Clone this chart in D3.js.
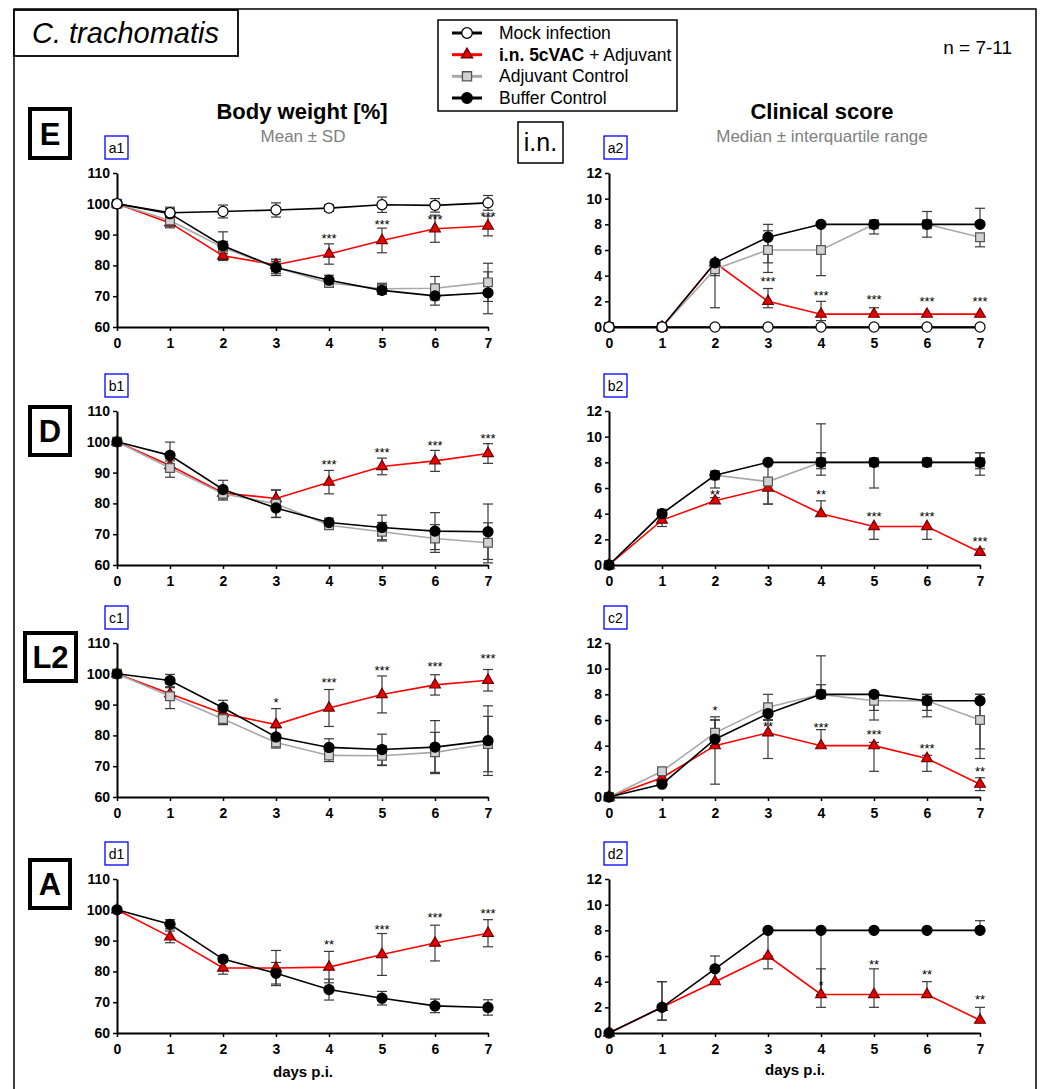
<!DOCTYPE html>
<html lang="en">
<head>
<meta charset="utf-8">
<title>C. trachomatis - body weight and clinical score</title>
<script src="https://cdn.jsdelivr.net/npm/d3@7"></script>
<style>
  body { margin: 0; background: #fff; font-family: 'Liberation Sans', Arial, sans-serif; }
  .axis path, .axis line { stroke: #000; }
  .axis path { stroke-width: 2; }
  .axis line { stroke-width: 1.5; }
  .axis text { font-family: 'Liberation Sans', Arial, sans-serif; font-weight: bold; font-size: 14px; fill: #000; }
</style>
</head>
<body>
<div id="chart"></div>
<script>

/* Data */
/* ==== */

var days = [0, 1, 2, 3, 4, 5, 6, 7];
var weightTicks = [60, 70, 80, 90, 100, 110];
var scoreTicks = [0, 2, 4, 6, 8, 10, 12];

var legendLabels = ['Mock infection', 'i.n. 5cVAC', 'Adjuvant Control', 'Buffer Control'];
var strainLabels = ['E', 'D', 'L2', 'A'];
var panelLabelsWeight = ['a1', 'b1', 'c1', 'd1'];
var panelLabelsScore = ['a2', 'b2', 'c2', 'd2'];

// body weight [%]: [mean, sd]
var eWeightMock = [[100, 0], [97.1, 1.8], [97.5, 2.1], [98.0, 2.3], [98.6, 1.0], [99.7, 2.5], [99.5, 2.2], [100.3, 2.4]];
var eWeightVac  = [[100, 0], [93.8, 1.6], [83.1, 1.5], [80.2, 1.8], [83.7, 3.3], [88.1, 4.0], [91.9, 4.4], [92.8, 3.2]];
var eWeightAdj  = [[100, 0], [94.6, 1.8], [85.8, 2.0], [79.3, 2.0], [74.3, 1.0], [72.4, 1.8], [72.6, 3.8], [74.5, 6.2]];
var eWeightBuf  = [[100, 0], [96.8, 1.6], [86.4, 4.5], [79.3, 2.6], [75.2, 1.6], [71.9, 1.3], [70.1, 3.0], [71.1, 6.8]];
var eWeightStars = ['', '', '', '', '***', '***', '***', '***'];
var eWeightStarAt = [0, 0, 0, 0, 89.4, 94.1, 95.7, 96.6];

var dWeightVac = [[100, 0], [92.3, 1.5], [83.4, 1.5], [81.6, 2.7], [86.9, 3.8], [92.0, 2.7], [93.8, 3.4], [96.2, 3.2]];
var dWeightAdj = [[100, 0], [91.5, 3.0], [83.1, 2.0], [79.9, 4.5], [72.9, 1.0], [70.8, 3.0], [68.6, 4.5], [67.2, 6.5]];
var dWeightBuf = [[100, 0], [95.6, 4.3], [84.5, 3.0], [78.5, 3.0], [73.8, 1.4], [72.2, 4.0], [71.0, 6.0], [70.8, 9.0]];
var dWeightStars = ['', '', '', '', '***', '***', '***', '***'];
var dWeightStarAt = [0, 0, 0, 0, 93.4, 97.2, 99.5, 101.9];

var lWeightVac = [[100, 0], [93.5, 2.0], [87.1, 1.5], [83.5, 5.2], [88.9, 6.0], [93.3, 6.0], [96.4, 3.3], [97.9, 3.5]];
var lWeightAdj = [[100, 0], [92.7, 4.0], [85.3, 1.8], [77.7, 1.8], [73.5, 2.0], [73.4, 3.2], [74.5, 6.5], [77.2, 9.0]];
var lWeightBuf = [[100, 0], [97.8, 2.0], [89.0, 2.4], [79.5, 3.0], [76.1, 2.8], [75.4, 5.0], [76.2, 8.6], [78.3, 11.3]];
var lWeightStars = ['', '', '', '*', '***', '***', '***', '***'];
var lWeightStarAt = [0, 0, 0, 91.6, 97.9, 101.9, 103.3, 105.9];

var aWeightVac = [[100, 0], [91.2, 1.9], [81.1, 2.0], [81.1, 5.7], [81.4, 5.1], [85.5, 6.8], [89.2, 5.8], [92.4, 4.4]];
var aWeightBuf = [[100, 0], [95.3, 1.5], [84.0, 1.0], [79.4, 3.5], [74.1, 3.4], [71.3, 2.2], [68.8, 2.2], [68.3, 2.5]];
var aWeightStars = ['', '', '', '', '**', '***', '***', '***'];
var aWeightStarAt = [0, 0, 0, 0, 89.4, 94.5, 98.4, 99.7];

// clinical score: [median, q1, q3]
var eScoreMock = [[0, 0, 0], [0, 0, 0], [0, 0, 0], [0, 0, 0], [0, 0, 0], [0, 0, 0], [0, 0, 0], [0, 0, 0]];
var eScoreVac  = [[0, 0, 0], [0, 0, 0], [5, 5, 5], [2, 1.5, 3], [1, 0.5, 2], [1, 1, 1.5], [1, 1, 1], [1, 1, 1]];
var eScoreAdj  = [[0, 0, 0], [0, 0, 0], [4.5, 1.5, 5], [6, 4.25, 7.5], [6, 4, 8], [8, 7.25, 8.25], [8, 7, 9], [7, 6.25, 7]];
var eScoreBuf  = [[0, 0, 0], [0, 0, 0], [5, 4, 5], [7, 5, 8], [8, 8, 8], [8, 8, 8], [8, 8, 8], [8, 8, 9.25]];
var eScoreStars = ['', '', '', '***', '***', '***', '***', '***'];
var eScoreStarAt = [0, 0, 0, 3.74, 2.67, 2.3, 2.15, 2.2];

var dScoreVac = [[0, 0, 0], [3.5, 3, 3.5], [5, 5, 5.25], [6, 4.75, 6], [4, 4, 5], [3, 2, 3], [3, 2, 3], [1, 0.75, 1.25]];
var dScoreAdj = [[0, 0, 0], [4, 4, 4], [7, 6, 7], [6.5, 4.75, 8], [8, 7.5, 11], [8, 6, 8], [8, 8, 8], [8, 7, 8.75]];
var dScoreBuf = [[0, 0, 0], [4, 4, 4], [7, 7, 7], [8, 8, 8], [8, 7, 8.75], [8, 8, 8], [8, 8, 8], [8, 7.5, 8.75]];
var dScoreStars = ['', '', '**', '', '**', '***', '***', '***'];
var dScoreStarAt = [0, 0, 5.69, 0, 5.69, 4.0, 4.0, 2.05];

var lScoreVac = [[0, 0, 0], [1.5, 1.5, 1.5], [4, 1, 6], [5, 3, 6], [4, 4, 5.25], [4, 2, 4.25], [3, 2, 3.25], [1, 0.5, 1.5]];
var lScoreAdj = [[0, 0, 0], [2, 2, 2], [5, 4, 6.25], [7, 6, 8], [8, 8, 11], [7.5, 6, 8], [7.5, 6.25, 8], [6, 3, 8]];
var lScoreBuf = [[0, 0, 0], [1, 1, 1.25], [4.5, 4, 6], [6.5, 6, 7], [8, 8, 8.75], [8, 6.75, 8], [7.5, 6.75, 8], [7.5, 3.75, 8]];
var lScoreStars = ['', '', '*', '**', '***', '***', '***', '**'];
var lScoreStarAt = [0, 0, 6.96, 5.66, 5.6, 5.09, 4.0, 2.19];

var aScoreVac = [[0, 0, 0], [2, 1, 4], [4, 4, 4], [6, 5, 6], [3, 2, 5], [3, 2, 5], [3, 3, 4], [1, 1, 2]];
var aScoreBuf = [[0, 0, 0], [2, 1, 4], [5, 4, 6], [8, 6, 8], [8, 3, 8], [8, 8, 8], [8, 8, 8], [8, 8, 8.75]];
var aScoreStars = ['', '', '', '', '*', '**', '**', '**'];
var aScoreStarAt = [0, 0, 0, 0, 3.89, 5.52, 4.74, 2.8];


/* Layout */
/* ====== */

var width = 1043,
    height = 1089,
    plotH = 154,
    rowTop = [173, 411, 643, 879],
    letterBoxes = [[30, 109, 40, 49], [30, 407, 40, 48], [25, 633, 51, 48], [30, 860, 40, 48]];

var seriesStyle = {
  vac:  { line: '#ff0000', shape: d3.symbolTriangle, size: 50, fill: '#e80000', stroke: '#6a0000' },
  adj:  { line: '#a8a8a8', shape: d3.symbolSquare, size: 76, fill: '#d2d2d2', stroke: '#555' },
  buf:  { line: '#000', shape: d3.symbolCircle, size: 80, fill: '#000', stroke: '#000' },
  mock: { line: '#000', shape: d3.symbolCircle, size: 80, fill: '#fff', stroke: '#000' }
};
var drawOrder = ['vac', 'adj', 'buf', 'mock'];

var panels = [
  { row: 0, col: 0, kind: 'weight', series: { mock: eWeightMock, vac: eWeightVac, adj: eWeightAdj, buf: eWeightBuf }, stars: eWeightStars, starAt: eWeightStarAt },
  { row: 0, col: 1, kind: 'score', series: { mock: eScoreMock, vac: eScoreVac, adj: eScoreAdj, buf: eScoreBuf }, stars: eScoreStars, starAt: eScoreStarAt },
  { row: 1, col: 0, kind: 'weight', series: { vac: dWeightVac, adj: dWeightAdj, buf: dWeightBuf }, stars: dWeightStars, starAt: dWeightStarAt },
  { row: 1, col: 1, kind: 'score', series: { vac: dScoreVac, adj: dScoreAdj, buf: dScoreBuf }, stars: dScoreStars, starAt: dScoreStarAt },
  { row: 2, col: 0, kind: 'weight', series: { vac: lWeightVac, adj: lWeightAdj, buf: lWeightBuf }, stars: lWeightStars, starAt: lWeightStarAt },
  { row: 2, col: 1, kind: 'score', series: { vac: lScoreVac, adj: lScoreAdj, buf: lScoreBuf }, stars: lScoreStars, starAt: lScoreStarAt },
  { row: 3, col: 0, kind: 'weight', series: { vac: aWeightVac, buf: aWeightBuf }, stars: aWeightStars, starAt: aWeightStarAt },
  { row: 3, col: 1, kind: 'score', series: { vac: aScoreVac, buf: aScoreBuf }, stars: aScoreStars, starAt: aScoreStarAt }
];

var xScales = [
  d3.scaleLinear().domain([0, 7]).range([117, 488]),
  d3.scaleLinear().domain([0, 7]).range([609, 980])
];

var svg = d3.select('#chart').append('svg')
  .attr('width', width)
  .attr('height', height)
  .style('display', 'block');

var font = "'Liberation Sans', Arial, sans-serif";


/* Frame and headers */
/* ================= */

svg.append('rect')
  .attr('x', 14).attr('y', 9).attr('width', 1022).attr('height', 1110)
  .attr('fill', 'none').attr('stroke', '#000').attr('stroke-width', 1.5);

svg.append('rect')
  .attr('x', 14).attr('y', 10).attr('width', 224).attr('height', 46)
  .attr('fill', '#fff').attr('stroke', '#000').attr('stroke-width', 1.8);

svg.append('text')
  .attr('x', 32).attr('y', 43)
  .style('font', 'italic 29px ' + font)
  .text('C. trachomatis');

svg.append('text')
  .attr('x', 1012).attr('y', 54)
  .attr('text-anchor', 'end')
  .style('font', '19px ' + font)
  .text('n = 7-11');

// legend
var legend = svg.append('g');
legend.append('rect')
  .attr('x', 438).attr('y', 20).attr('width', 239).attr('height', 91)
  .attr('fill', '#fff').attr('stroke', '#000').attr('stroke-width', 1.5);

var legendKeys = ['mock', 'vac', 'adj', 'buf'];
var legendY = d3.scalePoint().domain(legendKeys).range([33, 98]);

legendKeys.forEach(function(k, i) {
  var st = seriesStyle[k], y = legendY(k);
  legend.append('line')
    .attr('x1', 452).attr('x2', 482).attr('y1', y).attr('y2', y)
    .attr('stroke', st.line).attr('stroke-width', 3);
  legend.append('path')
    .attr('d', d3.symbol(st.shape, st.size * 1.1)())
    .attr('transform', 'translate(467,' + y + ')')
    .attr('fill', st.fill).attr('stroke', st.stroke).attr('stroke-width', 1.3);
  var t = legend.append('text')
    .attr('x', 499).attr('y', y + 6)
    .style('font', '17.5px ' + font);
  if (k === 'vac') {
    t.append('tspan').style('font-weight', 'bold').text(legendLabels[i]);
    t.append('tspan').text(' + Adjuvant');
  } else {
    t.text(legendLabels[i]);
  }
});

svg.append('text')
  .attr('x', 302).attr('y', 119).attr('text-anchor', 'middle')
  .style('font', 'bold 22px ' + font)
  .text('Body weight [%]');
svg.append('text')
  .attr('x', 303).attr('y', 142).attr('text-anchor', 'middle')
  .attr('fill', '#808080')
  .style('font', '17px ' + font)
  .text('Mean \u00b1 SD');

svg.append('text')
  .attr('x', 822).attr('y', 119).attr('text-anchor', 'middle')
  .style('font', 'bold 22px ' + font)
  .text('Clinical score');
svg.append('text')
  .attr('x', 822).attr('y', 142).attr('text-anchor', 'middle')
  .attr('fill', '#808080')
  .style('font', '17px ' + font)
  .text('Median \u00b1 interquartile range');

svg.append('rect')
  .attr('x', 518).attr('y', 122).attr('width', 45).attr('height', 41)
  .attr('fill', '#fff').attr('stroke', '#000').attr('stroke-width', 1.5);
svg.append('text')
  .attr('x', 540.5).attr('y', 151).attr('text-anchor', 'middle')
  .style('font', '25px ' + font)
  .text('i.n.');

// strain boxes
strainLabels.forEach(function(s, i) {
  var b = letterBoxes[i];
  svg.append('rect')
    .attr('x', b[0]).attr('y', b[1]).attr('width', b[2]).attr('height', b[3])
    .attr('fill', '#fff').attr('stroke', '#000').attr('stroke-width', 4);
  svg.append('text')
    .attr('x', b[0] + b[2] / 2).attr('y', b[1] + b[3] / 2 + 11)
    .attr('text-anchor', 'middle')
    .style('font', 'bold 31px ' + font)
    .text(s);
});


/* Panels */
/* ====== */

function drawPanel(p) {

  var top = rowTop[p.row],
      x = xScales[p.col],
      isWeight = p.kind === 'weight',
      y = d3.scaleLinear()
        .domain(isWeight ? [60, 110] : [0, 12])
        .range([top + plotH, top]);

  var g = svg.append('g');

  // panel label
  var lab = isWeight ? panelLabelsWeight[p.row] : panelLabelsScore[p.row];
  var lx = p.col === 0 ? 105 : 604;
  g.append('rect')
    .attr('x', lx).attr('y', top - 37).attr('width', 23).attr('height', 23)
    .attr('fill', '#fff').attr('stroke', '#0000ff').attr('stroke-width', 1.3);
  g.append('text')
    .attr('x', lx + 11.5).attr('y', top - 20).attr('text-anchor', 'middle')
    .style('font', '14px ' + font)
    .text(lab);

  // axes
  g.append('g')
    .attr('class', 'axis')
    .attr('transform', 'translate(' + x.range()[0] + ',0)')
    .call(d3.axisLeft(y).tickValues(isWeight ? weightTicks : scoreTicks)
      .tickFormat(d3.format('d'))
      .tickSize(4).tickSizeOuter(0).tickPadding(3));

  g.append('g')
    .attr('class', 'axis')
    .attr('transform', 'translate(0,' + (top + plotH) + ')')
    .call(d3.axisBottom(x).tickValues(days)
      .tickFormat(d3.format('d'))
      .tickSize(4).tickSizeOuter(0).tickPadding(7));

  function lo(d) { return isWeight ? d[0] - d[1] : d[1]; }
  function hi(d) { return isWeight ? d[0] + d[1] : d[2]; }

  var keys = drawOrder.filter(function(k) { return p.series[k]; });

  // error bars
  keys.forEach(function(k) {
    p.series[k].forEach(function(d, i) {
      var a = lo(d), b = hi(d), cx = x(days[i]);
      if (b - a <= 0) return;
      var eg = g.append('g').attr('stroke', '#3a3a3a').attr('stroke-width', 1.2);
      eg.append('line').attr('x1', cx).attr('x2', cx).attr('y1', y(a)).attr('y2', y(b));
      if (a < d[0]) eg.append('line').attr('x1', cx - 5).attr('x2', cx + 5).attr('y1', y(a)).attr('y2', y(a));
      if (b > d[0]) eg.append('line').attr('x1', cx - 5).attr('x2', cx + 5).attr('y1', y(b)).attr('y2', y(b));
    });
  });

  // lines and symbols
  var line = d3.line()
    .x(function(d, i) { return x(days[i]); })
    .y(function(d) { return y(d[0]); });

  keys.forEach(function(k) {
    var st = seriesStyle[k], data = p.series[k];
    g.append('path')
      .datum(data)
      .attr('d', line)
      .attr('fill', 'none')
      .attr('stroke', st.line)
      .attr('stroke-width', 1.6);

    g.selectAll(null)
      .data(data)
      .enter().append('path')
      .attr('d', d3.symbol(st.shape, st.size)())
      .attr('transform', function(d, i) { return 'translate(' + x(days[i]) + ',' + y(d[0]) + ')'; })
      .attr('fill', function(d, i) {
        // square hidden under the buffer circle reads as a black square
        if (k === 'adj' && p.series.buf && p.series.buf[i][0] === d[0]) return '#000';
        return st.fill;
      })
      .attr('stroke', st.stroke)
      .attr('stroke-width', 1.2);
  });

  // significance stars
  p.stars.forEach(function(s, i) {
    if (!s) return;
    g.append('text')
      .attr('x', x(days[i])).attr('y', y(p.starAt[i]) + 7)
      .attr('text-anchor', 'middle')
      .style('font', '13px ' + font)
      .text(s);
  });

} // drawPanel()

panels.forEach(function(p) {
  drawPanel(p);
});

svg.append('text')
  .attr('x', 303).attr('y', 1077).attr('text-anchor', 'middle')
  .style('font', 'bold 15px ' + font)
  .text('days p.i.');
svg.append('text')
  .attr('x', 795).attr('y', 1075).attr('text-anchor', 'middle')
  .style('font', 'bold 15px ' + font)
  .text('days p.i.');

</script>
</body>
</html>
